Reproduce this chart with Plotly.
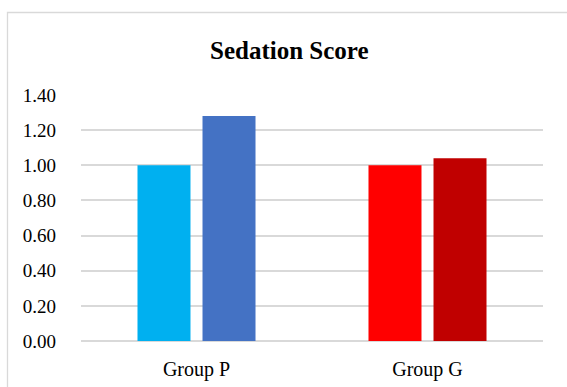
import plotly.graph_objects as go

groups = ["Group P", "Group G"]
first_values = [1.00, 1.00]
second_values = [1.28, 1.04]
first_colors = ["#00B0F0", "#FF0000"]
second_colors = ["#4472C4", "#C00000"]
y_ticks = [0, 0.2, 0.4, 0.6, 0.8, 1.0, 1.2, 1.4]

W, H = 567, 387
L, R, T, B = 81, 24, 95, 46
pw, ph = W - L - R, H - T - B

def px_x(x):
    return (x - L) / pw

def px_y(y):
    return (H - B - y) / ph

fig = go.Figure()
fig.add_trace(go.Bar(x=groups, y=first_values, marker=dict(color=first_colors, line=dict(width=0)),
                     showlegend=False))
fig.add_trace(go.Bar(x=groups, y=second_values, marker=dict(color=second_colors, line=dict(width=0)),
                     showlegend=False))

fig.update_layout(
    width=W, height=H,
    margin=dict(l=L, r=R, t=T, b=B),
    paper_bgcolor="white", plot_bgcolor="white",
    barmode="group", bargap=0.437, bargroupgap=0.185,
    font=dict(family="Liberation Serif", size=20, color="#000000"),
    xaxis=dict(showgrid=False, showline=False, zeroline=False, ticks="",
               tickfont=dict(size=20), ticklabelstandoff=14, automargin=False),
    yaxis=dict(range=[0, 1.4], tickvals=y_ticks, tickformat=".2f",
               showgrid=True, gridcolor="#D9D9D9", gridwidth=1.5,
               zeroline=True, zerolinecolor="#D9D9D9", zerolinewidth=1.5,
               showline=False, ticks="", ticklabelstandoff=24, automargin=False,
               tickfont=dict(size=19)),
    shapes=[dict(type="rect", xref="paper", yref="paper",
                 x0=px_x(7.5), x1=px_x(600), y0=px_y(420), y1=px_y(12.5),
                 line=dict(color="#D9D9D9", width=1.3), layer="below")],
    annotations=[dict(text="<b>Sedation Score</b>", xref="paper", yref="paper",
                      x=px_x(289.5), y=px_y(51), xanchor="center", yanchor="middle",
                      showarrow=False, font=dict(family="Liberation Serif", size=25))],
)

fig.write_html("out.html")
